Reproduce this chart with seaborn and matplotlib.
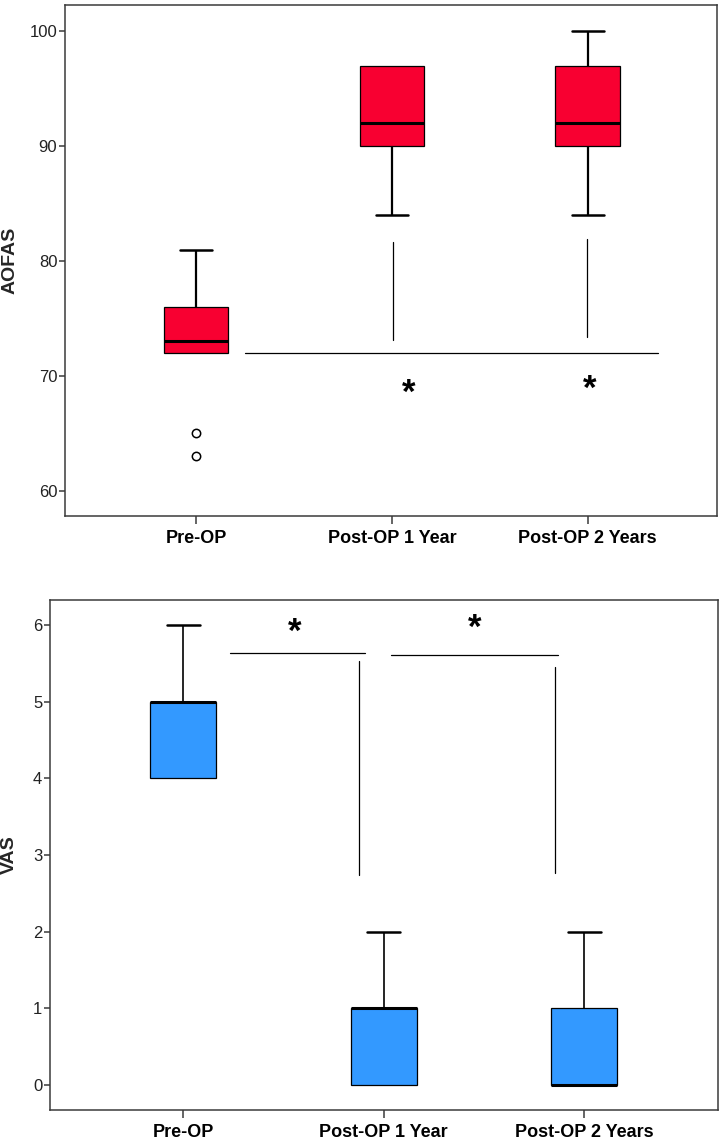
import numpy as np
import pandas as pd
import matplotlib
matplotlib.use("Agg")
import matplotlib.pyplot as plt
import seaborn as sns

# Groups on the x axis
groups = ["Pre-OP", "Post-OP 1 Year", "Post-OP 2 Years"]

# AOFAS scores per group (whiskers, quartiles, median, outliers)
aofas_pre = [63, 65, 72, 72, 73, 76, 76, 81, 81]
aofas_1y = [84, 90, 92, 97, 97]
aofas_2y = [84, 90, 92, 97, 100]

# VAS scores per group
vas_pre = [4, 4, 5, 5, 6]
vas_1y = [0, 0, 1, 1, 2]
vas_2y = [0, 0, 0, 1, 2]

# significance brackets (data units)
aofas_bar_x = [0.25, 2.36]
aofas_bar_y = 72.0
aofas_drop_x = [1.003, 1.995]
aofas_drop_y = [(73.15, 81.7), (73.35, 81.9)]
aofas_star_x = [1.086, 2.01]
aofas_star_y = [68.97, 69.28]

vas_bar_x = [(0.233, 0.904), (1.037, 1.867)]
vas_bar_y = [5.64, 5.61]
vas_drop_x = [0.874, 1.852]
vas_drop_y = [(2.74, 5.53), (2.76, 5.45)]
vas_star_x = [0.554, 1.453]
vas_star_y = [5.98, 6.03]

aofas_groups = [aofas_pre, aofas_1y, aofas_2y]
vas_groups = [vas_pre, vas_1y, vas_2y]

aofas_df = pd.DataFrame({
    "group": [g for g, v in zip(groups, aofas_groups) for _ in v],
    "AOFAS": [x for v in aofas_groups for x in v],
})
vas_df = pd.DataFrame({
    "group": [g for g, v in zip(groups, vas_groups) for _ in v],
    "VAS": [x for v in vas_groups for x in v],
})

sns.set_style("ticks")
plt.rcParams["font.family"] = ["Liberation Sans", "DejaVu Sans"]

fig = plt.figure(figsize=(7.2, 11.46), dpi=100)
ax1 = fig.add_axes([65 / 720, 1 - 516 / 1146, (717 - 65) / 720, (516 - 5) / 1146])
ax2 = fig.add_axes([50 / 720, 1 - 1110 / 1146, (718 - 50) / 720, (1110 - 600) / 1146])

flier_kw = dict(marker="o", markerfacecolor="white", markeredgecolor="black",
                markersize=6, markeredgewidth=1.1)


def draw_boxes(ax, df, col, color, whisker_lw, values):
    sns.boxplot(data=df, x="group", y=col, order=groups, ax=ax,
                color=color, saturation=1, width=0.33, linecolor="black",
                linewidth=0.9, whis=1.5,
                medianprops=dict(color="black", linewidth=2.2),
                whiskerprops=dict(color="black", linewidth=whisker_lw),
                capprops=dict(color="black", linewidth=1.8),
                flierprops=flier_kw)
    # hide caps that sit right on the box edge (zero-length whiskers)
    caps = ax.containers[0].caps
    for i, v in enumerate(values):
        q1, q3 = np.percentile(v, [25, 75])
        for cap in caps[2 * i:2 * i + 2]:
            y = cap.get_ydata()[0]
            if np.isclose(y, q1) or np.isclose(y, q3):
                cap.set_visible(False)


draw_boxes(ax1, aofas_df, "AOFAS", "#F80031", 1.6, aofas_groups)
draw_boxes(ax2, vas_df, "VAS", "#3399FF", 1.2, vas_groups)

# brackets and asterisks, top panel
ax1.plot(aofas_bar_x, [aofas_bar_y, aofas_bar_y], color="black", lw=0.9)
for x, (y0, y1) in zip(aofas_drop_x, aofas_drop_y):
    ax1.plot([x, x], [y0, y1], color="black", lw=0.9)
for x, y in zip(aofas_star_x, aofas_star_y):
    ax1.annotate("*", (x, y), xytext=(0, -4), textcoords="offset points",
                 ha="center", va="center", fontsize=25, fontweight="bold",
                 color="black")

# brackets and asterisks, bottom panel
for (x0, x1), y in zip(vas_bar_x, vas_bar_y):
    ax2.plot([x0, x1], [y, y], color="black", lw=0.9)
for x, (y0, y1) in zip(vas_drop_x, vas_drop_y):
    ax2.plot([x, x], [y0, y1], color="black", lw=0.9)
for x, y in zip(vas_star_x, vas_star_y):
    ax2.annotate("*", (x, y), xytext=(0, -4), textcoords="offset points",
                 ha="center", va="center", fontsize=25, fontweight="bold",
                 color="black")

ax1.set_ylim(57.8, 102.3)
ax1.set_yticks([60, 70, 80, 90, 100])
ax2.set_ylim(-0.33, 6.33)
ax2.set_yticks(range(0, 7))

for ax, xl in [(ax1, (-0.67, 2.66)), (ax2, (-0.666, 2.668))]:
    ax.set_xlim(*xl)
    ax.set_xlabel("")
    for s in ax.spines.values():
        s.set_color("#3a3a3a")
        s.set_linewidth(1.1)
    ax.tick_params(axis="y", length=4, width=1.1, color="#3a3a3a", pad=1.5,
                   labelsize=12, labelcolor="#222222")
    ax.tick_params(axis="x", length=6, width=1.1, color="#3a3a3a", pad=4,
                   labelsize=13, labelcolor="black")
    for lab in ax.get_xticklabels():
        lab.set_fontweight("bold")

ax1.set_ylabel("AOFAS", fontsize=14, fontweight="bold")
ax2.set_ylabel("VAS", fontsize=14, fontweight="bold")
ax1.yaxis.set_label_coords(-0.072, 0.5)
ax2.yaxis.set_label_coords(-0.048, 0.5)

fig.savefig("out.png", dpi=100)
